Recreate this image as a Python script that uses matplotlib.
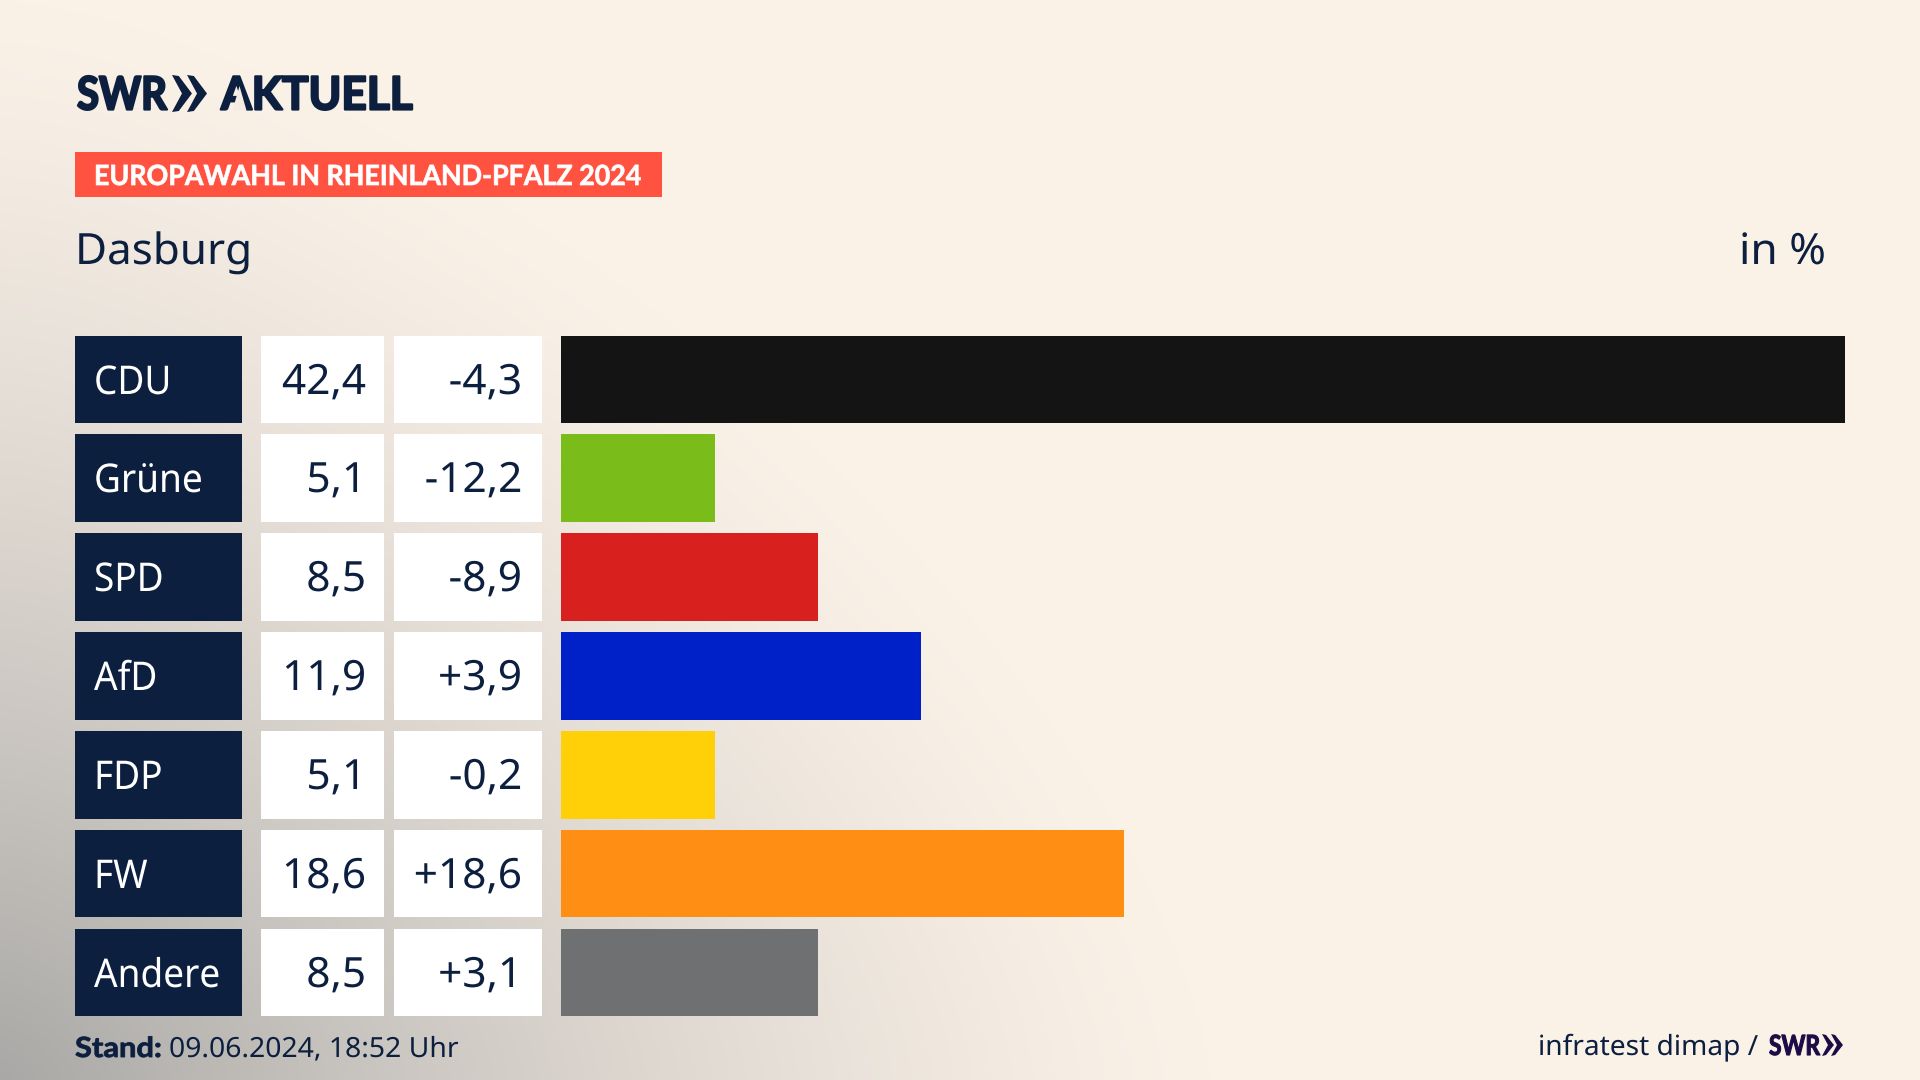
import numpy as np
import matplotlib
matplotlib.use("Agg")
import matplotlib.pyplot as plt
from matplotlib.patches import Rectangle, Polygon
from matplotlib.patheffects import AbstractPathEffect
from matplotlib.transforms import Affine2D

parties = ["CDU", "Grüne", "SPD", "AfD", "FDP", "FW", "Andere"]
shares = [42.4, 5.1, 8.5, 11.9, 5.1, 18.6, 8.5]
changes = ["-4,3", "-12,2", "-8,9", "+3,9", "-0,2", "+18,6", "+3,1"]
colors = ["#141414", "#7ABD1A", "#D8201E", "#0020C8", "#FFCF08", "#FF8F14", "#6F7072"]

NAVY = "#0C1F3F"
PURPLE = "#1D0B45"
FONT = "Noto Sans"
BOLD = "Lato"

W, H = 1920, 1080
fig = plt.figure(figsize=(W / 100, H / 100), dpi=100)
renderer = fig.canvas.get_renderer()

# background gradient, darkest in the lower left corner
bg = fig.add_axes([0, 0, 1, 1], zorder=0)
yy, xx = np.mgrid[0:H, 0:W]
u = xx / W
v = (H - yy) / H
p = 1.5
d = ((u / 0.63) ** p + (v / 1.0) ** p) ** (1 / p)
t = np.clip(1 - d, 0, 1) ** 1.35
cream = np.array([0xFA, 0xF1, 0xE7]) / 255
grey = np.array([0xA9, 0xA8, 0xA6]) / 255
img = cream + (grey - cream)[None, None, :] * t[:, :, None]
bg.imshow(img, extent=(0, W, H, 0), aspect="auto", interpolation="bilinear")
bg.set_axis_off()

# overlay in pixels
ov = fig.add_axes([0, 0, 1, 1], zorder=1)
ov.set_xlim(0, W)
ov.set_ylim(H, 0)
ov.set_axis_off()
ov.patch.set_alpha(0)


class Condense(AbstractPathEffect):
    """Narrow a text horizontally around its anchor, optionally thickening it."""

    def __init__(self, sx, x0, stroke=0, color=None):
        super().__init__()
        self.sx, self.x0, self.stroke, self.color = sx, x0, stroke, color

    def draw_path(self, rend, gc, tpath, affine, rgbFace=None):
        squeeze = Affine2D().translate(-self.x0, 0).scale(self.sx, 1).translate(self.x0, 0)
        if self.stroke:
            gc0 = rend.new_gc()
            gc0.copy_properties(gc)
            gc0.set_linewidth(self.stroke)
            gc0.set_foreground(self.color)
            rend.draw_path(gc0, tpath, affine + squeeze, rgbFace)
            gc0.restore()
        else:
            rend.draw_path(gc, tpath, affine + squeeze, rgbFace)


def label(x, y, s, size, color=NAVY, bold=False, ha="left", width=None, sx=None, stroke=0):
    txt = ov.text(x, y, s, color=color, fontsize=size, family=BOLD if bold else FONT,
                  weight="bold" if bold else "normal", va="baseline", ha=ha)
    if width is not None:
        sx = width / txt.get_window_extent(renderer).width
    if sx is not None:
        txt.set_path_effects([Condense(sx, x, stroke, color)])
    return sx


ROW_TOPS = [336, 434, 533, 632, 731, 830, 929]
ROW_HS = [87, 88, 88, 88, 88, 87, 87]

# bars
left, right = 561, 1845
bars_ax = fig.add_axes([left / W, 0, (right - left) / W, 1], zorder=2)
bars_ax.barh([y + h / 2 for y, h in zip(ROW_TOPS, ROW_HS)], shares, height=ROW_HS, color=colors)
bars_ax.set_xlim(0, max(shares))
bars_ax.set_ylim(H, 0)
bars_ax.set_axis_off()
bars_ax.patch.set_alpha(0)

probe = ov.text(0, 0, "42,4", fontsize=30, family=FONT)
VAL_SX = 84 / probe.get_window_extent(renderer).width
probe.remove()
probe = ov.text(0, 0, "Andere", fontsize=28.5, family=FONT)
NAME_SX = 126 / probe.get_window_extent(renderer).width
probe.remove()

for y, rh, name, s, c in zip(ROW_TOPS, ROW_HS, parties, shares, changes):
    base = y + 58
    ov.add_patch(Rectangle((75, y), 167, rh, color=NAVY, lw=0))
    ov.add_patch(Rectangle((261, y), 123, rh, color="white", lw=0))
    ov.add_patch(Rectangle((394, y), 148, rh, color="white", lw=0))
    label(94, base, name, 28.5, color="white", sx=NAME_SX)
    label(366, base, f"{s:.1f}".replace(".", ","), 30, ha="right", sx=VAL_SX)
    label(522, base, c, 30, ha="right", sx=VAL_SX)


def chevrons(x0, w, y0, y1, color):
    ym = (y0 + y1) / 2
    cw = w * 0.57
    for off in (0, w - cw):
        ov.add_patch(Polygon([(x0 + off, y0), (x0 + off + cw * 0.34, y0 + 1), (x0 + off + cw, ym),
                              (x0 + off + cw * 0.34, y1 - 1), (x0 + off, y1),
                              (x0 + off + cw * 0.5, ym)], closed=True, color=color, lw=0))


# logo
label(77, 109.5, "SWR", 33, bold=True, width=90, stroke=1.6)
chevrons(172, 35, 75, 112, NAVY)
label(221, 109.5, "AKTUELL", 33, bold=True, width=192, stroke=1.6)
cover = Polygon([(239.5, 86), (232.5, 110.5), (246.5, 110.5)], closed=True, color="#F4ECE2", lw=0)
cover.set_zorder(5)
ov.add_patch(cover)

# band
ov.add_patch(Rectangle((75, 152), 587, 45, color="#FF5240", lw=0))
label(94, 185, "EUROPAWAHL IN RHEINLAND-PFALZ 2024", 20, color="white", bold=True, width=547, stroke=0.5)

label(75, 264, "Dasburg", 31, width=177)
label(1826, 264, "in %", 31, ha="right", width=87)

# footer
label(75, 1057, "Stand:", 20, bold=True, width=87, stroke=0.6)
label(169, 1057, "09.06.2024, 18:52 Uhr", 20, width=290)
label(1758, 1055, "infratest dimap /", 20, ha="right", width=220)
label(1769, 1055, "SWR", 20, color=PURPLE, bold=True, width=51, stroke=0.8)
chevrons(1822, 21, 1034, 1056, PURPLE)

fig.savefig("out.png", dpi=100)
